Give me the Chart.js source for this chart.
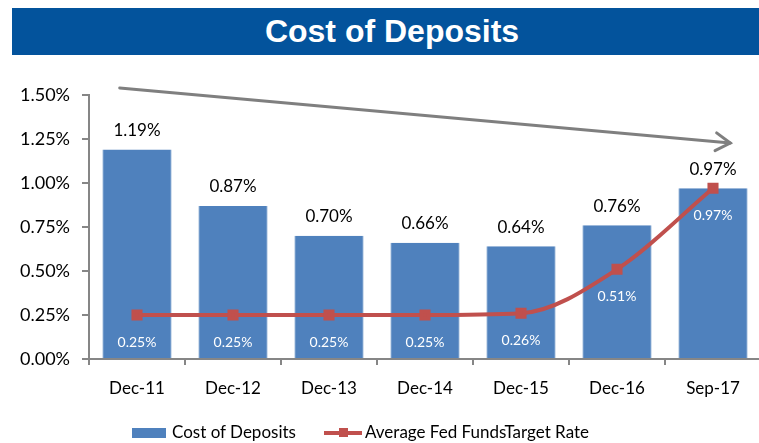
<!DOCTYPE html>
<html>
<head>
<meta charset="utf-8">
<script src="https://cdn.jsdelivr.net/npm/chart.js@4.4.1/dist/chart.umd.min.js"></script>
<style>
  html, body { margin: 0; padding: 0; background: #fff; }
  body { width: 759px; height: 443px; overflow: hidden; position: relative; font-family: Lato, sans-serif; }
  #banner {
    position: absolute; left: 12px; top: 8px; width: 760px; height: 47px;
    background: #03539C; color: #fff; text-align: center;
    font: bold 32px "Liberation Sans", Arial, sans-serif; line-height: 47px;
  }
  #wrap { position: absolute; left: 0; top: 0; width: 770px; height: 443px; }
  #legend { position: absolute; top: 421px; left: 0; width: 759px; height: 22px; font-size: 17px; color: #000; }
  .item { position: absolute; top: 0; height: 22px; line-height: 22px; white-space: nowrap; }
  .swatch { display: inline-block; width: 34px; height: 10px; background: #4F81BD; vertical-align: middle; margin-right: 6px; position: relative; top: -1px; }
  .lineKey { display: inline-block; width: 38px; height: 4px; background: #C0504D; vertical-align: middle; margin-right: 3px; position: relative; top: -1px; }
  .lineKey span { position: absolute; left: 15px; top: -3px; width: 9px; height: 9px; background: #C0504D; }
</style>
</head>
<body>
<div id="banner">Cost of Deposits</div>
<div id="wrap"><canvas id="chart" width="770" height="443"></canvas></div>
<div id="legend">
  <div class="item" style="left:132px"><span class="swatch"></span>Cost of Deposits</div>
  <div class="item" style="left:324px"><span class="lineKey"><span></span></span>Average Fed FundsTarget Rate</div>
</div>
<script>
// --- DATA ---
const categories = ['Dec-11', 'Dec-12', 'Dec-13', 'Dec-14', 'Dec-15', 'Dec-16', 'Sep-17'];
const costOfDeposits = [1.19, 0.87, 0.70, 0.66, 0.64, 0.76, 0.97];
const fedFundsRate = [0.25, 0.25, 0.25, 0.25, 0.26, 0.51, 0.97];
const yTicks = [0, 0.25, 0.5, 0.75, 1.0, 1.25, 1.5];
// trend arrow, in (category index, value) terms
const arrowFrom = { index: -0.18, value: 1.54 };
const arrowTo = { index: 6.18, value: 1.227 };

const pct = v => v.toFixed(2) + '%';

// --- PLUGINS ---
const valueLabels = {
  id: 'valueLabels',
  afterDatasetsDraw(chart) {
    const ctx = chart.ctx;
    ctx.save();
    ctx.textAlign = 'center';
    ctx.textBaseline = 'middle';
    chart.getDatasetMeta(1).data.forEach((bar, i) => {
      ctx.fillStyle = '#000';
      ctx.font = '17px Lato';
      ctx.fillText(pct(costOfDeposits[i]), bar.x, bar.y - 19);
    });
    chart.getDatasetMeta(0).data.forEach((pt, i) => {
      ctx.fillStyle = '#fff';
      ctx.font = '14px Lato';
      ctx.fillText(pct(fedFundsRate[i]), pt.x, pt.y + 27);
    });
    ctx.restore();
  }
};

const trendArrow = {
  id: 'trendArrow',
  afterDatasetsDraw(chart) {
    const { ctx, scales: { x, y } } = chart;
    const x1 = x.getPixelForValue(arrowFrom.index), y1 = y.getPixelForValue(arrowFrom.value);
    const x2 = x.getPixelForValue(arrowTo.index), y2 = y.getPixelForValue(arrowTo.value);
    const ang = Math.atan2(y2 - y1, x2 - x1);
    ctx.save();
    ctx.strokeStyle = '#7F7F7F';
    ctx.lineWidth = 3;
    ctx.lineCap = 'round';
    ctx.beginPath();
    ctx.moveTo(x1, y1);
    ctx.lineTo(x2, y2);
    ctx.stroke();
    ctx.beginPath();
    const len = 17;
    ctx.moveTo(x2 - len * Math.cos(ang - 0.55), y2 - len * Math.sin(ang - 0.55));
    ctx.lineTo(x2, y2);
    ctx.lineTo(x2 - len * Math.cos(ang + 0.55), y2 - len * Math.sin(ang + 0.55));
    ctx.stroke();
    ctx.restore();
  }
};

// --- CHART ---
new Chart(document.getElementById('chart'), {
  data: {
    labels: categories,
    datasets: [
      {
        type: 'line',
        label: 'Average Fed FundsTarget Rate',
        data: fedFundsRate,
        borderColor: '#C0504D',
        backgroundColor: '#C0504D',
        borderWidth: 4,
        pointStyle: 'rect',
        pointRadius: 5,
        pointHoverRadius: 5,
        cubicInterpolationMode: 'monotone',
        order: 0
      },
      {
        type: 'bar',
        label: 'Cost of Deposits',
        data: costOfDeposits,
        backgroundColor: '#4F81BD',
        borderColor: '#B9CDE5',
        borderWidth: { left: 1, right: 1, top: 0, bottom: 0 },
        categoryPercentage: 1,
        barPercentage: 0.725,
        order: 1
      }
    ]
  },
  options: {
    responsive: false,
    animation: false,
    events: [],
    layout: { padding: { left: 0, top: 95, right: 4, bottom: 0 } },
    plugins: { legend: { display: false }, tooltip: { enabled: false }, title: { display: false } },
    scales: {
      x: {
        afterFit(scale) { scale.height = 84; },
        grid: { display: true, drawOnChartArea: false, drawTicks: true, tickLength: 6, offset: true, color: '#868686', lineWidth: 2 },
        border: { color: '#868686', width: 2 },
        ticks: { color: '#000', font: { family: 'Lato', size: 17 }, padding: 13 }
      },
      y: {
        min: 0,
        max: 1.5,
        afterFit(scale) { scale.width = 89; },
        afterBuildTicks(scale) { scale.ticks = yTicks.map(v => ({ value: v })); },
        grid: { display: true, drawOnChartArea: false, drawTicks: true, tickLength: 7, color: '#868686', lineWidth: 2 },
        border: { color: '#868686', width: 2 },
        ticks: { color: '#000', font: { family: 'Lato', size: 18 }, padding: 12, callback: v => pct(v) }
      }
    }
  },
  plugins: [trendArrow, valueLabels]
});
</script>
</body>
</html>
